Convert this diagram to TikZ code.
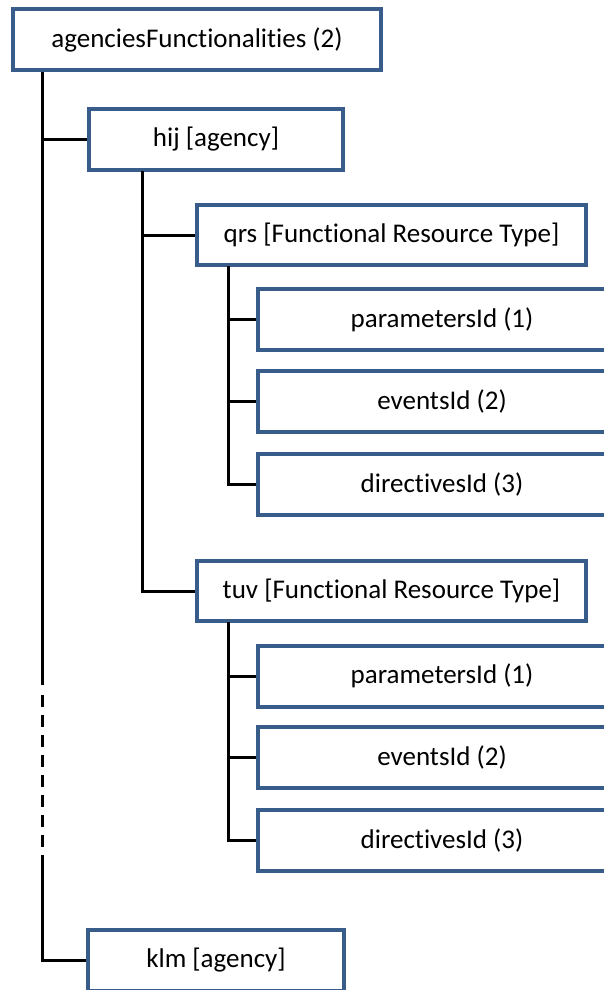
\documentclass[tikz,border=0pt]{standalone}
\usepackage{fontspec}
\setmainfont[Ligatures=NoCommon]{Carlito}
\definecolor{boxblue}{RGB}{56,93,138}
\begin{document}
\begin{tikzpicture}[x=1pt,y=-1pt,
  box/.style={draw=boxblue,line width=4pt,fill=white,rectangle,inner sep=0pt,
    font=\fontsize{27}{31}\selectfont},
  conn/.style={draw=black,line width=3pt}]
\useasboundingbox (0,0) rectangle (604,990);
\clip (0,0) rectangle (604,990);
% boxes
\node[box,minimum width=368pt,minimum height=61pt] (root) at (197,39.5) {agenciesFunctionalities (2)};
\node[box,minimum width=254pt,minimum height=61pt] (hij) at (216,139.5) {hij [agency]};
\node[box,minimum width=389pt,minimum height=60pt] (qrs) at (391.5,235) {qrs [Functional Resource Type]};
\node[box,minimum width=368pt,minimum height=61pt] (qp) at (442,319.5) {parametersId (1)};
\node[box,minimum width=368pt,minimum height=61pt] (qe) at (442,401.5) {eventsId (2)};
\node[box,minimum width=368pt,minimum height=61pt] (qd) at (442,484.5) {directivesId (3)};
\node[box,minimum width=389pt,minimum height=60pt] (tuv) at (391.5,591) {tuv [Functional Resource Type]};
\node[box,minimum width=368pt,minimum height=61pt] (tp) at (442,676) {parametersId (1)};
\node[box,minimum width=368pt,minimum height=61pt] (te) at (442,757) {eventsId (2)};
\node[box,minimum width=368pt,minimum height=61pt] (td) at (442,840.5) {directivesId (3)};
\node[box,minimum width=256pt,minimum height=61pt] (klm) at (216,960.5) {klm [agency]};
% trunk coordinates
\coordinate (r0) at (42,72);
\coordinate (r1) at (42,685);
\coordinate (r2) at (42,695);
\coordinate (r3) at (42,847);
\coordinate (r4) at (42,855);
\coordinate (h0) at (142,171);
\coordinate (q0) at (228,266);
\coordinate (t0) at (228,622);
% connectors
\draw[conn] (r0) -- (r1);
\draw[conn,dash pattern=on 12pt off 8pt] (r2) -- (r3);
\draw[conn] (r4) |- (klm.west);
\draw[conn] (r0) |- (hij.west);
\draw[conn] (h0) |- (tuv.west);
\draw[conn] (h0) |- (qrs.west);
\draw[conn] (q0) |- (qd.west);
\draw[conn] (q0) |- (qp.west);
\draw[conn] (q0) |- (qe.west);
\draw[conn] (t0) |- (td.west);
\draw[conn] (t0) |- (tp.west);
\draw[conn] (t0) |- (te.west);
\end{tikzpicture}
\end{document}
